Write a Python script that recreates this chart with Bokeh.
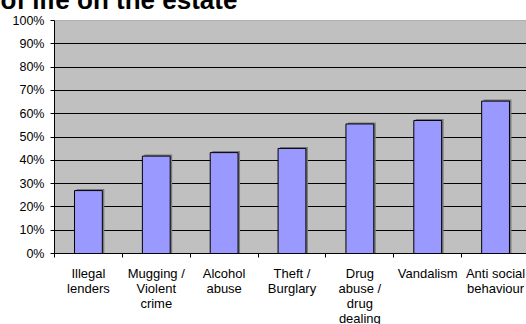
from bokeh.plotting import figure
from bokeh.models import FixedTicker, NumeralTickFormatter, Range1d, Span, ColumnDataSource, Title
from bokeh.transform import dodge
from bokeh.embed import file_html
from bokeh.resources import INLINE

categories = ["Illegal\nlenders", "Mugging /\nViolent\ncrime", "Alcohol\nabuse", "Theft /\nBurglary",
              "Drug\nabuse /\ndrug\ndealing", "Vandalism", "Anti social\nbehaviour"]
values = [0.27, 0.418, 0.433, 0.451, 0.556, 0.571, 0.654]
y_ticks = [0.0, 0.1, 0.2, 0.3, 0.4, 0.5, 0.6, 0.7, 0.8, 0.9, 1.0]
title_text = "of life on the estate"

n = len(categories)
centers = [i + 0.5 for i in range(n)]
boundaries = list(range(n + 1))

W, H = 526, 324
T, B = 20, 4           # hidden strips above / below the window (title is cut off at the top)
frame_left = 54
cat_w = (529 - frame_left) / n
px_x = 1.0 / cat_w
px_y = 1.0 / 232

p = figure(width=W, height=H + T + B, output_backend="svg", toolbar_location=None,
           title=title_text,
           x_range=Range1d(0, (W - frame_left) / cat_w), y_range=Range1d(0, 1),
           min_border_left=frame_left, min_border_top=0, min_border_right=0,
           min_border_bottom=0)
p.styles = {"margin-top": f"-{T}px", "margin-bottom": f"-{B}px"}
p.background_fill_color = "#C0C0C0"
p.border_fill_color = "white"
p.outline_line_color = None

font = "Liberation Sans"
p.title.text_font = font
p.title.text_font_size = "26px"
p.title.text_font_style = "bold"
p.title.text_color = "black"
p.title.align = "left"
p.title.offset = -frame_left
p.title.standoff = 4
# small blank spacer between the title and the plot area
p.add_layout(Title(text=" ", text_font_size="2px", standoff=0), "above")

# grid
p.xgrid.visible = False
p.ygrid.ticker = FixedTicker(ticks=y_ticks[1:-1])
p.ygrid.grid_line_color = "black"
p.ygrid.grid_line_width = 1
p.add_layout(Span(location=1.0, dimension="width", line_color="#808080", line_width=1))

src = ColumnDataSource(dict(x=centers, top=values))
p.vbar(x=dodge("x", 2 * px_x, range=p.x_range), top=dodge("top", 1.5 * px_y, range=p.y_range),
       width=0.41, source=src, fill_color="#7a7a7a", line_color=None)
p.vbar(x="x", top="top", width=0.41, source=src, fill_color="#9999FF", line_color="black", line_width=1)

# y axis
p.yaxis.ticker = FixedTicker(ticks=y_ticks)
p.yaxis.formatter = NumeralTickFormatter(format="0%")
p.yaxis.axis_line_color = "black"
p.yaxis.major_tick_line_color = "black"
p.yaxis.major_tick_out = 4
p.yaxis.major_tick_in = 0
p.yaxis.minor_tick_line_color = None
p.yaxis.major_label_text_font = font
p.yaxis.major_label_text_font_size = "12.5px"
p.yaxis.major_label_text_color = "black"
p.yaxis.major_label_standoff = 6

# x axis: labels at category centres, ticks (minor) at category boundaries
p.xaxis.ticker = FixedTicker(ticks=centers, minor_ticks=boundaries)
p.xaxis.major_label_overrides = {c: lab for c, lab in zip(centers, categories)}
p.xaxis.axis_line_color = "black"
p.xaxis.major_tick_out = 0
p.xaxis.major_tick_in = 0
p.xaxis.minor_tick_line_color = "black"
p.xaxis.minor_tick_out = 4
p.xaxis.minor_tick_in = 0
p.xaxis.major_label_text_font = font
p.xaxis.major_label_text_font_size = "13px"
p.xaxis.major_label_text_color = "black"
p.xaxis.major_label_text_line_height = 1.0
p.xaxis.major_label_standoff = 8

open("out.html", "w").write(file_html(p, INLINE))
